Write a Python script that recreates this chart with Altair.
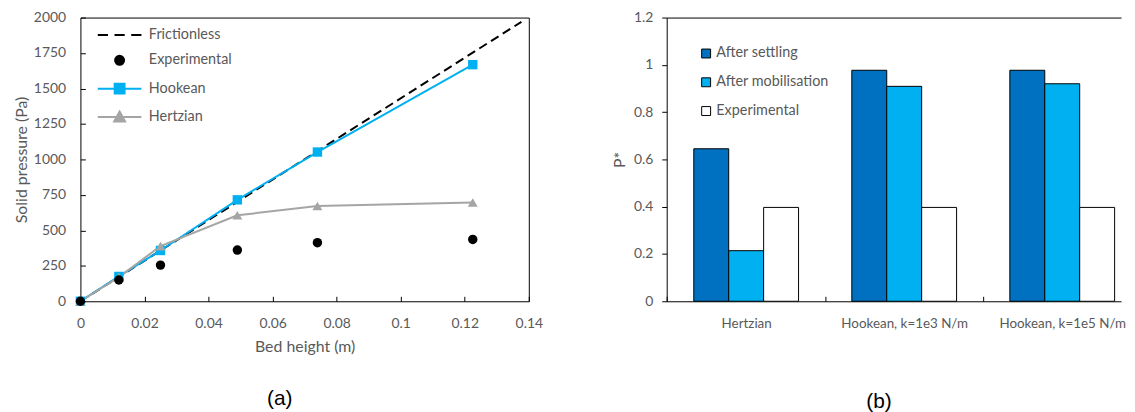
import altair as alt
import pandas as pd

# ---------------- Panel (a) data ----------------
bed_height = [0.0, 0.012, 0.025, 0.049, 0.074, 0.1225]
p_experimental = [0, 150, 255, 361, 413, 436]
p_hookean = [0, 175, 358, 715, 1052, 1668]
p_hertzian = [0, 170, 389, 606, 672, 696]
frictionless_height = [0.0, 0.1377]
p_frictionless = [0, 1970]
series_a = ["Frictionless", "Experimental", "Hookean", "Hertzian"]
x_ticks_a = [0, 0.02, 0.04, 0.06, 0.08, 0.1, 0.12, 0.14]
y_ticks_a = [0, 250, 500, 750, 1000, 1250, 1500, 1750, 2000]

# ---------------- Panel (b) data ----------------
models = ["Hertzian", "Hookean, k=1e3 N/m", "Hookean, k=1e5 N/m"]
stages = ["After settling", "After mobilisation", "Experimental"]
after_settling = [0.645, 0.977, 0.977]
after_mobilisation = [0.214, 0.909, 0.920]
experimental_b = [0.397, 0.397, 0.397]
y_ticks_b = [0, 0.2, 0.4, 0.6, 0.8, 1, 1.2]

# ---------------- styling ----------------
FONT = "Lato"
GRAY = "#595959"
BLUE = "#00B0F0"
DARK = "#0070C0"
HGRAY = "#A5A5A5"

W1, H = 452, 286
W2 = 458
STEP = 159.3
PI = 0.337
PO = (W2 / STEP - 3 + PI) / 2
ALIGN = 27.3 / (W2 - STEP * (3 - PI))

# ---------------- Panel (a) ----------------
df_fric = pd.DataFrame({"h": frictionless_height, "p": p_frictionless})
df_exp = pd.DataFrame({"h": bed_height, "p": p_experimental})
df_hook = pd.DataFrame({"h": bed_height, "p": p_hookean})
df_hertz = pd.DataFrame({"h": bed_height, "p": p_hertzian})
df_leg = pd.DataFrame({"series": series_a})

xs = alt.Scale(domain=[0, 0.14], nice=False, zero=False)
ys = alt.Scale(domain=[0, 2000], nice=False)
xax = alt.Axis(title="Bed height (m)", values=x_ticks_a, format="~g", offset=-5,
               domain=False, tickSize=5, tickColor="black", labelPadding=15,
               titlePadding=9, grid=False, labelFlush=False, labelOverlap=False)
yax = alt.Axis(title="Solid pressure (Pa)", values=y_ticks_a, format="d", offset=-5,
               domain=False, tickSize=5, tickColor="black", labelPadding=15,
               titlePadding=4, grid=False, labelFlush=False, labelOverlap=False)

X = alt.X("h:Q", scale=xs, axis=xax)
Y = alt.Y("p:Q", scale=ys, axis=yax)

fric = alt.Chart(df_fric).mark_line(color="black", strokeDash=[9, 5], strokeWidth=2).encode(x=X, y=Y)
hook_line = alt.Chart(df_hook).mark_line(color=BLUE, strokeWidth=2).encode(x=X, y=Y)
hook_pts = alt.Chart(df_hook).mark_square(color=BLUE, size=90, opacity=1).encode(x=X, y=Y)
hertz_line = alt.Chart(df_hertz).mark_line(color=HGRAY, strokeWidth=2).encode(x=X, y=Y)
hertz_pts = alt.Chart(df_hertz).mark_point(shape="triangle-up", filled=True, color=HGRAY,
                                           size=100, opacity=1).encode(x=X, y=Y)
exp_pts = alt.Chart(df_exp).mark_circle(color="black", size=90, opacity=1).encode(x=X, y=Y)

legend_paths = [
    "M-3,0H-1.6M-0.7,0H0.7M1.6,0H3",
    "M0.62,0A0.62,0.62,0,1,1,-0.62,0A0.62,0.62,0,1,1,0.62,0Z",
    "M-3,0H3M-0.68,-0.68H0.68V0.68H-0.68Z",
    "M-3,0H3M0,-0.75L0.75,0.6H-0.75Z",
]
legend_colors = ["black", "black", BLUE, HGRAY]
leg_a = alt.Legend(title=None, orient="none", legendX=31, legendY=9, labelFont=FONT,
                   labelFontSize=14.5, labelColor=GRAY, symbolSize=215, symbolStrokeWidth=2,
                   labelOffset=21, rowPadding=9.6, padding=0)
legend_layer = alt.Chart(df_leg).mark_point(filled=True, clip=True, opacity=1).encode(
    x=alt.value(-200), y=alt.value(-200),
    shape=alt.Shape("series:N", scale=alt.Scale(domain=series_a, range=legend_paths), legend=leg_a),
    fill=alt.Fill("series:N", scale=alt.Scale(domain=series_a, range=legend_colors), legend=leg_a),
    stroke=alt.Stroke("series:N", scale=alt.Scale(domain=series_a, range=legend_colors), legend=leg_a),
)

left = alt.layer(fric, hook_line, hertz_line, hook_pts, hertz_pts, exp_pts, legend_layer).properties(
    width=W1, height=H,
    view=alt.ViewBackground(stroke="black", strokeWidth=1),
    title=alt.TitleParams(text="(a)", orient="bottom", anchor="middle", font="Liberation Sans",
                          fontSize=21, fontWeight="normal", color="black", offset=34, dx=-25),
)

# ---------------- Panel (b) ----------------
df_b = pd.DataFrame({
    "model": models * 3,
    "stage": [s for s in stages for _ in models],
    "value": after_settling + after_mobilisation + experimental_b,
})

grid_y = {"condition": {"test": "datum.value == 0 || datum.value > 1.19", "value": 1}, "value": 0}

xax_b = alt.Axis(title=None, labelAngle=0, offset=-5, domain=False, tickSize=5, tickColor="black",
                 tickOffset=-STEP / 2, labelOffset=STEP / 2, labelPadding=15, labelLimit=300,
                 labelFontSize=13.5, grid=False)
yax_b = alt.Axis(title="P*", values=y_ticks_b, format="~g", domain=True, domainColor="black",
                 tickSize=5, tickColor="black", labelPadding=9, titlePadding=6, grid=True,
                 gridColor="black", gridOpacity=grid_y, labelFlush=False, labelOverlap=False)
leg_b = alt.Legend(title=None, orient="none", legendX=32.5, legendY=29, symbolType="square",
                   symbolSize=81, symbolStrokeColor="black", symbolStrokeWidth=1,
                   labelFont=FONT, labelFontSize=14.5, labelColor=GRAY, labelOffset=3,
                   rowPadding=14, padding=0)

right = alt.Chart(df_b).mark_bar(stroke="black", strokeWidth=1).encode(
    x=alt.X("model:N", sort=models, axis=xax_b,
            scale=alt.Scale(paddingInner=PI, paddingOuter=PO, align=ALIGN)),
    xOffset=alt.XOffset("stage:N", sort=stages, scale=alt.Scale(paddingInner=0, paddingOuter=0)),
    y=alt.Y("value:Q", scale=alt.Scale(domain=[0, 1.2], nice=False), axis=yax_b),
    fill=alt.Fill("stage:N", scale=alt.Scale(domain=stages, range=[DARK, BLUE, "white"]), legend=leg_b),
).properties(
    width=W2, height=H,
    view=alt.ViewBackground(stroke="transparent"),
    title=alt.TitleParams(text="(b)", orient="bottom", anchor="middle", font="Liberation Sans",
                          fontSize=21, fontWeight="normal", color="black", offset=62, dx=-15),
)

chart = alt.hconcat(left, right, spacing=67).resolve_scale(
    fill="independent", stroke="independent", shape="independent"
).resolve_legend(
    fill="independent", stroke="independent", shape="independent"
).properties(
    padding={"left": 5, "top": 0, "right": 0, "bottom": 0}
).configure_axis(
    labelFont=FONT, titleFont=FONT, labelFontSize=14, titleFontSize=16,
    labelColor=GRAY, titleColor=GRAY, titleFontWeight="normal",
)

chart.save("out.html", embed_options={"renderer": "svg", "actions": False})
